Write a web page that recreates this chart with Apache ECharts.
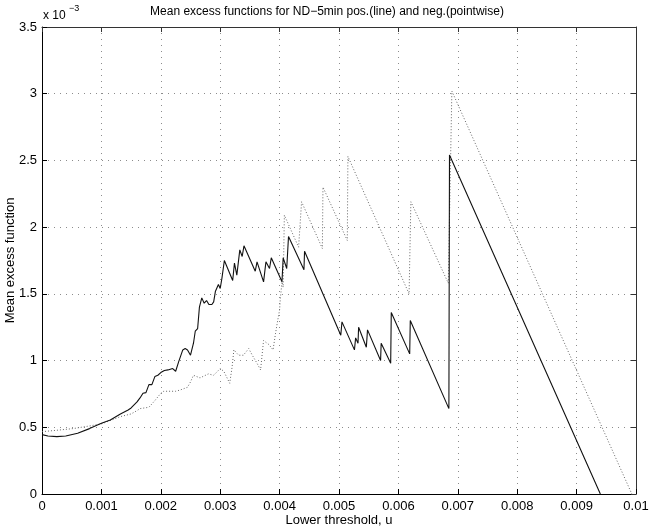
<!DOCTYPE html>
<html><head><meta charset="utf-8">
<script src="https://cdn.jsdelivr.net/npm/echarts@6/dist/echarts.min.js"></script>
<style>html,body{margin:0;padding:0;background:#fff}#c{width:654px;height:530px}</style>
</head><body><div id="c"></div>
<script>
// x in units of 1e-3 (threshold u), y in units of 1e-3 (mean excess)
const posX = [0,0.1,0.25,0.4,0.6,0.8,1.0,1.15,1.32,1.45,1.5,1.6,1.65,1.7,1.75,1.8,1.85,1.9,1.95,2.0,2.06,2.12,2.2,2.25,2.3,2.33,2.37,2.41,2.45,2.5,2.55,2.58,2.62,2.65,2.69,2.73,2.77,2.81,2.86,2.89,2.92,2.97,3.0,3.03,3.07,3.21,3.24,3.28,3.33,3.37,3.4,3.59,3.62,3.73,3.77,3.83,3.86,4.04,4.06,4.12,4.15,4.41,4.42,5.03,5.05,5.26,5.28,5.32,5.33,5.46,5.48,5.7,5.71,5.87,5.88,6.19,6.2,6.85,6.86,9.4];
const posY = [0.445,0.435,0.43,0.435,0.455,0.49,0.53,0.555,0.6,0.63,0.645,0.69,0.72,0.755,0.76,0.82,0.82,0.88,0.89,0.91,0.925,0.93,0.94,0.92,0.99,1.0,1.08,1.09,1.08,1.04,1.13,1.22,1.24,1.4,1.47,1.43,1.45,1.42,1.42,1.44,1.52,1.57,1.54,1.62,1.75,1.6,1.73,1.64,1.83,1.78,1.86,1.67,1.74,1.59,1.74,1.69,1.77,1.59,1.77,1.69,1.93,1.68,1.82,1.19,1.29,1.08,1.17,1.13,1.25,1.1,1.23,1.0,1.13,0.98,1.36,1.05,1.3,0.64,2.54,0];
const negX = [0,0.3,0.52,0.8,1.0,1.32,1.5,1.6,1.65,1.8,1.9,2.0,2.05,2.25,2.33,2.45,2.5,2.55,2.66,2.8,2.89,3.0,3.06,3.16,3.2,3.23,3.31,3.39,3.48,3.54,3.62,3.68,3.73,3.82,3.89,3.93,3.96,4.0,4.01,4.04,4.06,4.08,4.32,4.37,4.72,4.73,5.14,5.15,6.18,6.21,6.84,6.9,9.93];
const negY = [0.467,0.48,0.49,0.51,0.525,0.58,0.6,0.625,0.64,0.65,0.7,0.755,0.77,0.77,0.78,0.8,0.84,0.89,0.87,0.9,0.89,0.94,0.92,0.83,0.95,1.08,1.04,1.04,1.09,1.04,0.98,0.93,1.15,1.12,1.08,1.2,1.28,1.38,1.45,1.59,1.55,2.09,1.85,2.19,1.84,2.3,1.9,2.53,1.5,2.19,1.58,3.02,0];
const xTickLabels = ['0','0.001','0.002','0.003','0.004','0.005','0.006','0.007','0.008','0.009','0.01'];
const yTickLabels = ['0','0.5','1','1.5','2','2.5','3','3.5'];
const titleText = 'Mean excess functions for ND\u22125min pos.(line) and neg.(pointwise)';
const xName = 'Lower threshold, u';
const yName = 'Mean excess function';

const FONT = '"Liberation Sans", Arial, Helvetica, sans-serif';
const chart = echarts.init(document.getElementById('c'), null, {renderer:'canvas'});
const posData = posX.map((x,i)=>[x/1000, posY[i]]);
const negData = negX.map((x,i)=>[x/1000, negY[i]]);
const gridLine = {show:true, lineStyle:{color:'#8c8c8c', type:[1,5], width:1}};
const baseX = {type:'value', min:0, max:0.01, interval:0.001};
const baseY = {type:'value', min:0, max:3.5, interval:0.5};
chart.setOption({
  animation:false,
  backgroundColor:'#fff',
  grid:{left:42, right:18, top:27, bottom:36, containLabel:false, outerBoundsMode:'none'},
  graphic:[
    {type:'text', left:'center', top:6, style:{text:titleText, font:'12px '+FONT, fill:'#000'}},
    {type:'text', left:43, top:10, style:{text:'x 10', font:'12px '+FONT, fill:'#000'}},
    {type:'text', left:69, top:4, style:{text:'\u22123', font:'9px '+FONT, fill:'#000'}}
  ],
  xAxis:[
    Object.assign({}, baseX, {position:'bottom', name:xName, nameLocation:'middle', nameGap:20,
      nameMoveOverlap:false,
      nameTextStyle:{fontFamily:FONT, fontSize:13, color:'#000'},
      axisLine:{show:true, onZero:false, lineStyle:{color:'#000', width:1}},
      axisTick:{show:true, inside:true, length:5, lineStyle:{color:'#000'}},
      axisLabel:{color:'#000', fontFamily:FONT, fontSize:13, margin:6,
        formatter:(v)=>xTickLabels[Math.round(v*1000)]},
      splitLine:gridLine}),
    Object.assign({}, baseX, {position:'top',
      axisLine:{show:true, onZero:false, lineStyle:{color:'#333', width:1}},
      axisTick:{show:true, inside:true, length:5, lineStyle:{color:'#333'}},
      axisLabel:{show:false}, splitLine:{show:false}})
  ],
  yAxis:[
    Object.assign({}, baseY, {position:'left', name:yName, nameLocation:'middle', nameGap:25,
      nameMoveOverlap:false,
      nameTextStyle:{fontFamily:FONT, fontSize:13, color:'#000'},
      axisLine:{show:true, onZero:false, lineStyle:{color:'#000', width:1}},
      axisTick:{show:true, inside:true, length:5, lineStyle:{color:'#000'}},
      axisLabel:{color:'#000', fontFamily:FONT, fontSize:13, margin:5,
        formatter:(v)=>yTickLabels[Math.round(v*2)]},
      splitLine:gridLine}),
    Object.assign({}, baseY, {position:'right',
      axisLine:{show:true, onZero:false, lineStyle:{color:'#333', width:1}},
      axisTick:{show:true, inside:true, length:5, lineStyle:{color:'#333'}},
      axisLabel:{show:false}, splitLine:{show:false}})
  ],
  series:[
    {type:'line', data:negData, showSymbol:false, symbol:'none', clip:true,
      lineStyle:{color:'#666', width:1, type:[1,2]}},
    {type:'line', data:posData, showSymbol:false, symbol:'none', clip:true,
      lineStyle:{color:'#111', width:1.1}}
  ]
});
</script></body></html>
